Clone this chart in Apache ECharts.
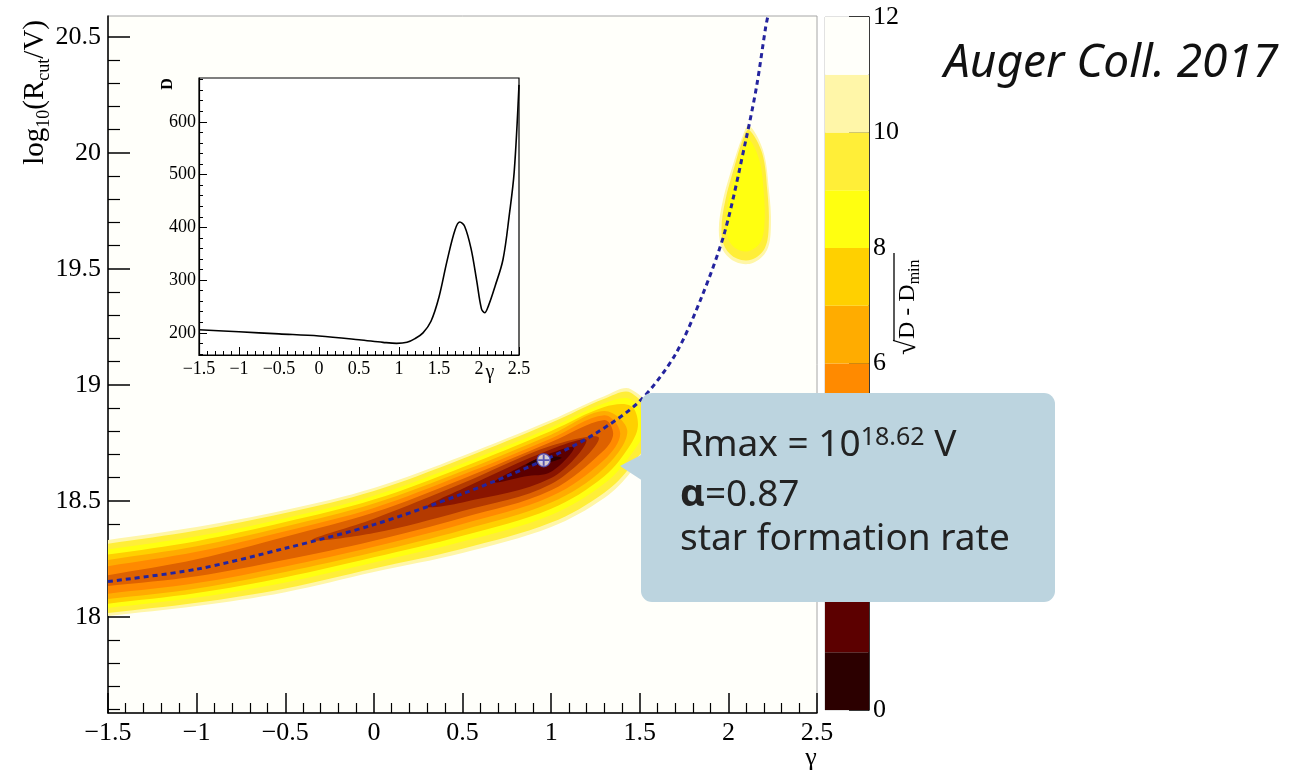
<!DOCTYPE html>
<html>
<head>
<meta charset="utf-8">
<script src="https://cdn.jsdelivr.net/npm/echarts@6/dist/echarts.min.js"></script>
<style>
  html, body { margin: 0; padding: 0; background: #ffffff; }
  #chart { width: 1290px; height: 772px; }
</style>
</head>
<body>
<div id="chart"></div>
<script>
// ---------- axis ticks ----------
const logRTicks = [18, 18.5, 19, 19.5, 20, 20.5];
const logRMinorTicks = [17.6, 17.7, 17.8, 17.9, 18.1, 18.2, 18.3, 18.4, 18.6, 18.7, 18.8, 18.9,
  19.1, 19.2, 19.3, 19.4, 19.6, 19.7, 19.8, 19.9, 20.1, 20.2, 20.3, 20.4];
const profileDTicks = [200, 300, 400, 500, 600];
const profileDMinorTicks = [160, 180, 220, 240, 260, 280, 320, 340, 360, 380, 420, 440, 460, 480,
  520, 540, 560, 580, 620, 640, 660, 680];

// ---------- colour palette of sqrt(D - Dmin), one colour per unit band 0..12 ----------
const paletteBands = [[0, 1], [1, 2], [2, 3], [3, 4], [4, 5], [5, 6], [6, 7], [7, 8], [8, 9], [9, 10], [10, 11], [11, 12]];
const bandColors = ['#2c0000', '#5c0000', '#8a1500', '#b43a00', '#de6200', '#ff8a00',
  '#ffac00', '#ffd000', '#ffff10', '#ffee38', '#fff6a8', '#fffffa'];

// ---------- contour regions (gamma, log10 Rcut) : region where sqrt(D - Dmin) < level ----------
const contour11 = [[-1.6,18.320],[-1.5,18.331],[-1,18.387],[-0.5,18.460],[0,18.555],[0.5,18.693],[1,18.848],[1.3,18.951],[1.45,18.981],[1.62,18.82],[1.45,18.624],[1.3,18.512],[1,18.387],[0.5,18.275],[0,18.193],[-0.5,18.106],[-1,18.046],[-1.5,18.003],[-1.6,17.994]];
const contour10 = [[-1.6,18.304],[-1.5,18.315],[-1,18.372],[-0.5,18.447],[0,18.542],[0.5,18.681],[1,18.836],[1.3,18.940],[1.45,18.966],[1.58,18.82],[1.45,18.650],[1.3,18.535],[1,18.406],[0.5,18.293],[0,18.208],[-0.5,18.122],[-1,18.060],[-1.5,18.016],[-1.6,18.007]];
const contour9 = [[-1.6,18.279],[-1.5,18.290],[-1,18.347],[-0.5,18.425],[0,18.522],[0.5,18.661],[1,18.816],[1.3,18.920],[1.45,18.937],[1.53,18.82],[1.45,18.698],[1.3,18.574],[1,18.439],[0.5,18.324],[0,18.234],[-0.5,18.148],[-1,18.083],[-1.5,18.038],[-1.6,18.029]];
const contour8 = [[-1.6,18.257],[-1.5,18.268],[-1,18.326],[-0.5,18.408],[0,18.505],[0.5,18.645],[1,18.801],[1.3,18.904],[1.45,18.909],[1.49,18.83],[1.45,18.745],[1.3,18.606],[1,18.466],[0.5,18.349],[0,18.256],[-0.5,18.170],[-1,18.102],[-1.5,18.056],[-1.6,18.047]];
const contour7 = [[-1.6,18.233],[-1.5,18.245],[-1,18.304],[-0.5,18.389],[0,18.488],[0.5,18.628],[1,18.785],[1.3,18.887],[1.43,18.80],[1.3,18.641],[1,18.492],[0.5,18.374],[0,18.278],[-0.5,18.193],[-1,18.122],[-1.5,18.076],[-1.6,18.067]];
const contour6 = [[-1.6,18.206],[-1.5,18.218],[-1,18.280],[-0.5,18.369],[0,18.469],[0.5,18.612],[1,18.769],[1.3,18.869],[1.39,18.79],[1.3,18.677],[1,18.519],[0.5,18.400],[0,18.302],[-0.5,18.217],[-1,18.145],[-1.5,18.099],[-1.6,18.090]];
const contour5 = [[-1.6,18.166],[-1.5,18.179],[-1,18.248],[-0.5,18.345],[0,18.449],[0.5,18.594],[1,18.753],[1.3,18.848],[1.35,18.79],[1.3,18.719],[1,18.545],[0.5,18.427],[0,18.328],[-0.5,18.246],[-1,18.175],[-1.5,18.133],[-1.6,18.125]];
const contour4 = [[-0.35,18.33],[0,18.422],[0.5,18.575],[1,18.737],[1.27,18.77],[1,18.572],[0.5,18.456],[0,18.361]];
const contour3 = [[0.3,18.475],[0.5,18.552],[1,18.722],[1.2,18.76],[1,18.598],[0.5,18.493]];
const contour2 = [[0.68,18.58],[0.85,18.655],[1,18.706],[1.13,18.73],[1,18.625],[0.85,18.605]];
const contour1 = [[0.86,18.655],[0.96,18.69],[1.06,18.685],[0.96,18.66]];
// secondary minimum near gamma ~ 2.1
const island11 = [[2.116,20.119],[2.195,20.012],[2.229,19.839],[2.240,19.688],[2.218,19.581],[2.138,19.525],[2.042,19.529],[1.969,19.581],[1.946,19.667],[1.969,19.796],[2.025,19.947],[2.082,20.076]];
const island10 = [[2.116,20.100],[2.190,20.000],[2.220,19.835],[2.228,19.688],[2.206,19.590],[2.132,19.540],[2.048,19.544],[1.981,19.592],[1.961,19.671],[1.983,19.796],[2.034,19.940],[2.085,20.065]];
const island9 = [[2.116,20.060],[2.175,19.968],[2.200,19.825],[2.203,19.688],[2.178,19.611],[2.113,19.576],[2.048,19.585],[1.998,19.630],[1.986,19.710],[2.008,19.818],[2.050,19.934],[2.090,20.030]];

const contourRegions = [
  { level: 11, pts: contour11 }, { level: 10, pts: contour10 }, { level: 9, pts: contour9 },
  { level: 8, pts: contour8 }, { level: 7, pts: contour7 }, { level: 6, pts: contour6 },
  { level: 5, pts: contour5 }, { level: 4, pts: contour4 }, { level: 3, pts: contour3 },
  { level: 2, pts: contour2 }, { level: 1, pts: contour1 },
  { level: 11, pts: island11 }, { level: 10, pts: island10 }, { level: 9, pts: island9 }
];

// ---------- valley of the fit (dashed curve) ----------
const valleyGamma = [-1.5, -1.0, -0.5, 0.0, 0.5, 0.96, 1.25, 1.5, 1.7, 1.85, 1.98, 2.1, 2.16, 2.21, 2.223];
const valleyLogR  = [18.152, 18.205, 18.295, 18.397, 18.53, 18.675, 18.79, 18.93, 19.13, 19.38, 19.66, 20.06, 20.29, 20.54, 20.59];

// ---------- best fit ----------
const bestFit = [0.958, 18.675];

// ---------- inset: deviance profile D(gamma) ----------
const profileGamma = [-1.5, -1.0, -0.5, 0.0, 0.5, 0.8, 0.97, 1.1, 1.2, 1.3, 1.4, 1.5, 1.6, 1.7, 1.76, 1.82, 1.9, 1.97, 2.03, 2.07, 2.12, 2.2, 2.3, 2.38, 2.44, 2.5];
const profileD     = [206, 202, 198, 194, 187, 182, 180, 182, 189, 200, 222, 268, 336, 395, 410, 402, 360, 300, 246, 238, 252, 288, 339, 425, 505, 670];

const SERIF = '"Liberation Serif", "Times New Roman", serif';
const SANS = '"Noto Sans", "Open Sans", sans-serif';
const minusFmt = v => (v < 0 ? '\u2212' + String(-v) : String(v));

const MAIN_RECT = { left: 108, top: 16, width: 709, height: 697 };
const INSET_RECT = { left: 199, top: 78, width: 320, height: 277 };

const chart = echarts.init(document.getElementById('chart'), null, { renderer: 'canvas' });

const option = {
  animation: false,
  backgroundColor: '#ffffff',
  textStyle: { fontFamily: SERIF, color: '#000' },
  grid: [
    Object.assign({ show: true, backgroundColor: '#fffffa', borderColor: '#a6a6a6', borderWidth: 1 }, MAIN_RECT),
    { left: 825, top: 17, width: 44, height: 693, show: true, backgroundColor: 'transparent', borderColor: '#c4c4c4', borderWidth: 1 },
    Object.assign({ show: true, backgroundColor: '#ffffff', borderColor: '#000000', borderWidth: 1.2 }, INSET_RECT),
    // overlay grids carrying the minor ticks of the vertical axes
    Object.assign({ show: false }, MAIN_RECT),
    Object.assign({ show: false }, INSET_RECT)
  ],
  xAxis: [
    {
      gridIndex: 0, type: 'value', min: -1.5, max: 2.5, interval: 0.5,
      axisLine: { onZero: false, lineStyle: { color: '#000', width: 1.5 } },
      axisTick: { inside: true, length: 20, lineStyle: { color: '#000', width: 1.5 } },
      minorTick: { show: true, splitNumber: 5, length: 10, lineStyle: { color: '#000', width: 1.2 } },
      axisLabel: { formatter: minusFmt, fontFamily: SERIF, fontSize: 26, color: '#000', margin: 7 },
      splitLine: { show: false }, minorSplitLine: { show: false }
    },
    { gridIndex: 1, type: 'value', min: 0, max: 1, show: false },
    {
      gridIndex: 2, type: 'value', min: -1.5, max: 2.5, interval: 0.5,
      axisLine: { onZero: false, lineStyle: { color: '#000', width: 1.2 } },
      axisTick: { inside: true, length: 8, lineStyle: { color: '#000', width: 1 } },
      minorTick: { show: true, splitNumber: 5, length: 4, lineStyle: { color: '#000', width: 1 } },
      axisLabel: { formatter: minusFmt, fontFamily: SERIF, fontSize: 18, color: '#000', margin: 5 },
      splitLine: { show: false }, minorSplitLine: { show: false }
    },
    { gridIndex: 3, type: 'value', min: -1.5, max: 2.5, show: false },
    { gridIndex: 4, type: 'value', min: -1.5, max: 2.5, show: false }
  ],
  yAxis: [
    {
      gridIndex: 0, type: 'value', min: 17.585, max: 20.59, position: 'left',
      axisLine: { onZero: false, lineStyle: { color: '#000', width: 1.5 } },
      axisTick: { inside: true, length: 22, customValues: logRTicks, lineStyle: { color: '#000', width: 1.5 } },
      axisLabel: { show: false },
      splitLine: { show: false }
    },
    {
      gridIndex: 1, type: 'value', min: 0, max: 12, interval: 2, position: 'right',
      axisLine: { onZero: false, lineStyle: { color: '#000', width: 1.5 } },
      axisTick: { inside: true, length: 20, lineStyle: { color: '#000', width: 1.5 } },
      axisLabel: { fontFamily: SERIF, fontSize: 26, color: '#000', margin: 4 },
      splitLine: { show: false }
    },
    {
      gridIndex: 2, type: 'value', min: 158, max: 683, position: 'left',
      axisLine: { onZero: false, lineStyle: { color: '#000', width: 1.2 } },
      axisTick: { inside: true, length: 8, customValues: profileDTicks, lineStyle: { color: '#000', width: 1 } },
      axisLabel: { show: false },
      splitLine: { show: false }
    },
    {
      gridIndex: 3, type: 'value', min: 17.585, max: 20.59, position: 'left',
      axisLine: { show: false, onZero: false },
      axisTick: { inside: true, length: 12, customValues: logRMinorTicks, lineStyle: { color: '#000', width: 1.2 } },
      axisLabel: { show: false }, splitLine: { show: false }
    },
    {
      gridIndex: 4, type: 'value', min: 158, max: 683, position: 'left',
      axisLine: { show: false, onZero: false },
      axisTick: { inside: true, length: 4, customValues: profileDMinorTicks, lineStyle: { color: '#000', width: 1 } },
      axisLabel: { show: false }, splitLine: { show: false }
    }
  ],
  series: [
    {
      // filled contour bands
      type: 'custom', xAxisIndex: 0, yAxisIndex: 0, clip: true, silent: true, z: 2,
      data: contourRegions.map((r, i) => [i]),
      renderItem(params, api) {
        const region = contourRegions[api.value(0)];
        const cs = params.coordSys;
        return {
          type: 'group',
          clipPath: { type: 'rect', shape: { x: cs.x, y: cs.y, width: cs.width, height: cs.height } },
          children: [{
            type: 'polygon',
            shape: { points: region.pts.map(p => api.coord(p)), smooth: 0.35 },
            style: { fill: bandColors[region.level - 1], stroke: null }
          }]
        };
      }
    },
    {
      type: 'line', xAxisIndex: 0, yAxisIndex: 0, z: 4, silent: true,
      data: valleyGamma.map((g, i) => [g, valleyLogR[i]]),
      showSymbol: false, smooth: 0.3, clip: true,
      lineStyle: { color: '#24249e', width: 3, type: [5, 4] }
    },
    {
      type: 'scatter', xAxisIndex: 0, yAxisIndex: 0, z: 5, silent: true,
      data: [bestFit], symbol: 'circle', symbolSize: 13,
      itemStyle: { color: '#ffffff', borderColor: '#4a4ab8', borderWidth: 1.5 }
    },
    {
      type: 'scatter', xAxisIndex: 0, yAxisIndex: 0, z: 6, silent: true,
      data: [bestFit],
      symbol: 'path://M-1,-6 L1,-6 L1,-1 L6,-1 L6,1 L1,1 L1,6 L-1,6 L-1,1 L-6,1 L-6,-1 L-1,-1 Z',
      symbolSize: 11, itemStyle: { color: '#3a3aa8' }
    },
    {
      // colour scale boxes
      type: 'custom', xAxisIndex: 1, yAxisIndex: 1, silent: true, z: 1,
      data: paletteBands.map((b, i) => [b[0], b[1], i]),
      renderItem(params, api) {
        const lo = api.coord([0, api.value(0)]);
        const hi = api.coord([1, api.value(1)]);
        return {
          type: 'rect',
          shape: { x: lo[0], y: hi[1], width: hi[0] - lo[0], height: lo[1] - hi[1] },
          style: { fill: bandColors[api.value(2)], stroke: null }
        };
      }
    },
    {
      type: 'line', xAxisIndex: 2, yAxisIndex: 2, z: 4, silent: true,
      data: profileGamma.map((g, i) => [g, profileD[i]]),
      showSymbol: false, smooth: 0.35, clip: true,
      lineStyle: { color: '#000', width: 1.6 }
    }
  ],
  graphic: [
    {
      type: 'text', x: 35, y: 20, rotation: Math.PI / 2, z: 50,
      style: {
        text: '{n|log}{s|10}{n|(R}{s|cut}{n|/V)}',
        rich: {
          n: { fontFamily: SERIF, fontSize: 29, lineHeight: 36, fill: '#000' },
          s: { fontFamily: SERIF, fontSize: 18, lineHeight: 18, verticalAlign: 'bottom', fill: '#000' }
        },
        align: 'right', verticalAlign: 'middle'
      }
    },
    {
      type: 'text', x: 811, y: 758, z: 50,
      style: { text: 'γ', fontFamily: SERIF, fontSize: 26, fill: '#000', align: 'center', verticalAlign: 'middle' }
    },
    {
      type: 'group', x: 908, y: 303, rotation: Math.PI / 2, z: 50,
      children: [
        { type: 'text', x: -52, y: 0, z: 50, style: { text: '√', fontFamily: SERIF, fontSize: 28, fill: '#000', align: 'left', verticalAlign: 'middle' } },
        {
          type: 'text', x: -36, y: 0, z: 50,
          style: {
            text: '{n|D - D}{s|min}',
            rich: {
              n: { fontFamily: SERIF, fontSize: 24, lineHeight: 30, fill: '#000' },
              s: { fontFamily: SERIF, fontSize: 16, lineHeight: 16, verticalAlign: 'bottom', fill: '#000' }
            },
            align: 'left', verticalAlign: 'middle'
          }
        },
        { type: 'line', z: 50, shape: { x1: -38, y1: -14, x2: 50, y2: -14 }, style: { stroke: '#000', lineWidth: 1.3 } }
      ]
    },
    {
      type: 'text', x: 168, y: 84, rotation: Math.PI / 2, z: 50,
      style: { text: 'D', fontFamily: SERIF, fontWeight: 'bold', fontSize: 16, fill: '#000', align: 'center', verticalAlign: 'middle' }
    },
    {
      type: 'text', x: 490, y: 373, z: 50,
      style: { text: 'γ', fontFamily: SERIF, fontSize: 20, fill: '#000', align: 'center', verticalAlign: 'middle' }
    },
    {
      type: 'text', x: 944, y: 64, z: 50,
      style: { text: 'Auger Coll. 2017', fontFamily: SANS, fontStyle: 'italic', fontSize: 46, fill: '#111', align: 'left', verticalAlign: 'middle' }
    },
    // callout
    { type: 'polygon', z: 100, shape: { points: [[620, 466], [643, 454], [643, 481]] }, style: { fill: '#bcd4df' } },
    { type: 'rect', z: 100, shape: { x: 641, y: 393, width: 414, height: 209, r: 11 }, style: { fill: '#bcd4df' } },
    {
      type: 'text', x: 680, y: 445, z: 101,
      style: {
        text: '{n|Rmax = 10}{s|18.62}{n| V}',
        rich: {
          n: { fontFamily: SANS, fontSize: 37, lineHeight: 40, fill: '#222' },
          s: { fontFamily: SANS, fontSize: 25, lineHeight: 25, verticalAlign: 'top', fill: '#222' }
        },
        align: 'left', verticalAlign: 'middle'
      }
    },
    {
      type: 'text', x: 680, y: 495, z: 101,
      style: {
        text: '{a|α}{n|=0.87}',
        rich: {
          a: { fontFamily: SANS, fontSize: 38, fontWeight: 'bold', lineHeight: 40, fill: '#222' },
          n: { fontFamily: SANS, fontSize: 37, lineHeight: 40, fill: '#222' }
        },
        align: 'left', verticalAlign: 'middle'
      }
    },
    {
      type: 'text', x: 680, y: 539, z: 101,
      style: { text: 'star formation rate', fontFamily: SANS, fontSize: 37, fill: '#222', align: 'left', verticalAlign: 'middle' }
    }
  ]
};

chart.setOption(option);

// vertical tick labels, placed through each grid's own scale
function tickLabels(gridIndex, xAtAxis, values, gap, size) {
  return values.map(v => {
    const p = chart.convertToPixel({ gridIndex: gridIndex }, [xAtAxis, v]);
    return {
      type: 'text', x: p[0] - gap, y: p[1], z: 50,
      style: { text: String(v), fontFamily: SERIF, fontSize: size, fill: '#000', align: 'right', verticalAlign: 'middle' }
    };
  });
}
chart.setOption({
  graphic: option.graphic
    .concat(tickLabels(0, -1.5, logRTicks, 7, 26))
    .concat(tickLabels(2, -1.5, profileDTicks, 3, 18))
});
</script>
</body>
</html>
